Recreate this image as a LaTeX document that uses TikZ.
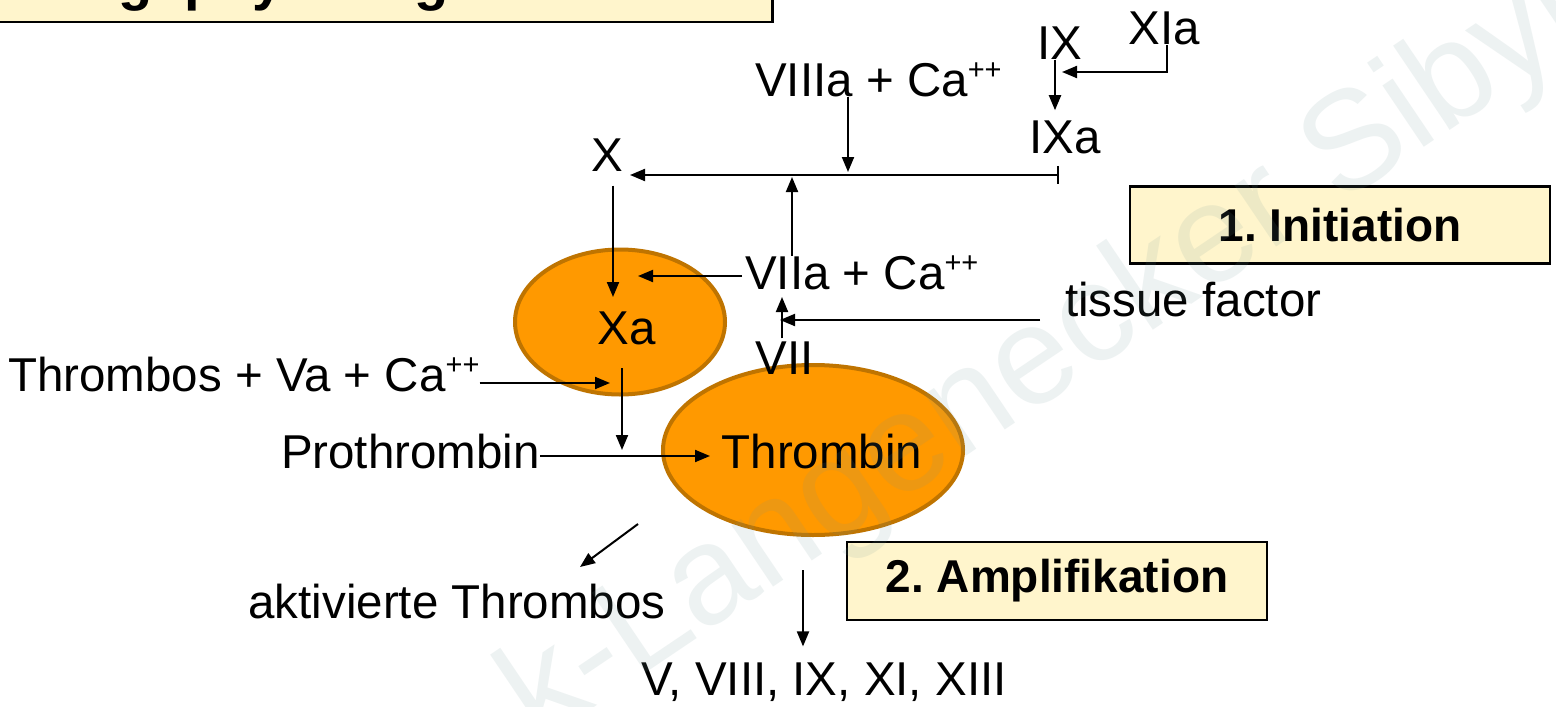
\documentclass[tikz,border=0pt]{standalone}
\usepackage{fontspec}
\setmainfont{Liberation Sans}
\usetikzlibrary{arrows.meta,shapes.geometric}
\definecolor{paleY}{RGB}{255,245,204}
\definecolor{orangeF}{RGB}{255,153,0}
\definecolor{orangeD}{RGB}{191,116,0}
\definecolor{wmark}{RGB}{110,150,150}
\newcommand\plusplus{\raisebox{0.36em}{\fontsize{29}{29}\selectfont ++}}
\frenchspacing
\begin{document}
\begin{tikzpicture}[x=1pt,y=-1pt,
  lbl/.style={inner sep=0pt, font=\fontsize{47.5}{50}\selectfont},
  ln/.style={line width=2pt},
  arr/.style={line width=2pt, -{Triangle[length=15pt,width=12pt]}},
  blob/.style={ellipse, fill=orangeF, draw=orangeD, line width=4pt, inner sep=0pt},
  phase/.style={draw=black, line width=2.5pt, fill=paleY, inner sep=0pt, font=\bfseries\fontsize{46}{50}\selectfont},
  ttl/.style={inner sep=0pt, font=\bfseries\fontsize{56}{60}\selectfont}
]
\useasboundingbox (0,0) rectangle (1556,707);
\fill[white] (0,0) rectangle (1556,707);

% title box (cut off at the top)
\node[phase, minimum width=775pt, minimum height=60pt, anchor=south west] (title) at (-4,23) {};
\node[ttl, anchor=base east] (ttlA) at (153,-1) {Gerinnung};
\node[ttl, anchor=base west] (ttlB) at (184,-1) {physiologisch};

% ellipses
\node[blob, minimum width=210pt, minimum height=145pt] (Xa) at (620,322) {};
\node[lbl] (XaT) at (627,328) {Xa};
\node[blob, minimum width=300pt, minimum height=170pt] (Th) at (813,450) {};
\node[lbl] (ThT) at (822,452) {Thrombin};

% labels
\node[lbl] (IX) at (1060,43) {IX};
\node[lbl] (XIa) at (1164,28) {XIa};
\node[lbl, anchor=west] (VIIIa) at (755,80) {VIIIa + Ca\plusplus};
\node[lbl] (IXa) at (1065,137) {IXa};
\node[lbl] (X) at (607,155) {X};
\node[lbl, anchor=west] (VIIa) at (745,273) {VIIa + Ca\plusplus};
\node[lbl, anchor=west] (tf) at (1065,300) {tissue factor};
\node[lbl] (VII) at (785,358) {VII};
\node[lbl, anchor=west] (Thr) at (8,375) {Thrombos + Va + Ca\plusplus};
\node[lbl, anchor=east] (Pro) at (540,452) {Prothrombin};
\node[lbl] (akt) at (457,602) {aktivierte Thrombos};
\node[lbl] (list) at (824,682) {V, VIII, IX, XI, XIII};

\node[phase, minimum width=420pt, minimum height=77pt] (init) at (1340,225) {1. Initiation};
\node[phase, minimum width=420pt, minimum height=78pt] (ampl) at (1057,581) {2. Amplifikation};

% junction coordinates
\coordinate (jIX) at (1055,72);
\coordinate (jH) at (1058,175);
\coordinate (j8) at (848,175);
\coordinate (j7) at (792,175);
\coordinate (jXL) at (630,175);
\coordinate (jTF) at (780,320);
\coordinate (jXa) at (622,450);

% connectors
\draw[arr] ([xshift=3pt]XIa.south) |- ([xshift=7pt]jIX);
\draw[arr] ([xshift=-5pt]IX.south) -- ([xshift=-10pt,yshift=10pt]IXa.north);
\draw[ln] ([xshift=-7pt,yshift=-12pt]IXa.south) -- ++(0,18);
\draw[arr] (jH) -- (jXL);
\draw[arr] (VIIIa.south -| j8) -- ([yshift=3pt]j8);
\draw[arr] (VIIa.north -| j7) -- ([yshift=-2pt]j7);
\draw[arr] ([xshift=6pt,yshift=-14pt]X.south) -- ([xshift=-7pt,yshift=25pt]Xa.center);
\draw[arr] ([xshift=-3pt,yshift=-3pt]VIIa.west) -- ([xshift=18pt,yshift=46pt]Xa.center);
\draw[arr] ([xshift=-25pt,yshift=-20pt]tf.west) -- (jTF);
\draw[arr] ([xshift=-3pt,yshift=3pt]VII.north) -- ([xshift=-3pt,yshift=-24pt]VIIa.west -| VII.north);
\draw[arr] ([yshift=-8pt]Thr.east) -- ([xshift=-10pt,yshift=-61pt]Xa.center);
\draw[arr] ([xshift=2pt,yshift=-46pt]Xa.center) -- (jXa);
\draw[arr] ([yshift=-4pt]Pro.east) -- ([xshift=-103pt,yshift=-6pt]Th.center);
\draw[arr] ([xshift=-175pt,yshift=-74pt]Th.center) -- ([xshift=-233pt,yshift=-117pt]Th.center);
\draw[arr] ([xshift=-10pt,yshift=-120pt]Th.center) -- ([xshift=-21pt,yshift=16pt]list.north);

% watermark
\node[inner sep=0pt, rotate=34, text=wmark, opacity=0.12, font=\fontsize{140}{140}\selectfont] (wm) at (1045,360) {k-Langenecker Sibyl};
\end{tikzpicture}
\end{document}
